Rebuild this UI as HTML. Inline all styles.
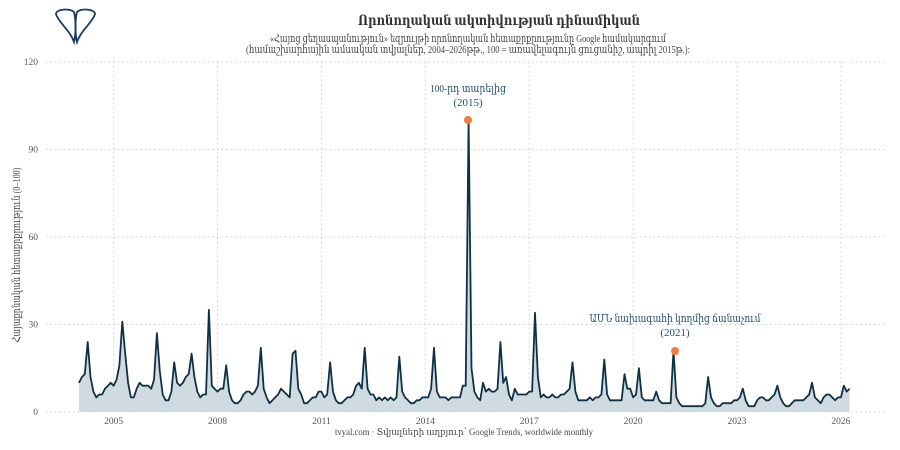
<!DOCTYPE html>
<html><head><meta charset="utf-8"><style>
body{margin:0;background:#fff;}
svg{display:block;font-family:"Liberation Serif","DejaVu Serif",serif;}
</style></head><body>
<svg id="s" width="900" height="450" viewBox="0 0 900 450" xmlns="http://www.w3.org/2000/svg">
<g fill="none" stroke="#1d3a63" stroke-width="1.8">
<path d="M74,42 C70,30 58,22 56,14 C56,9 70,8 74,12 C76,20 76,34 74,42 Z"/>
<path d="M77,42 C81,30 93,22 95,14 C95,9 81,8 77,12 C75,20 75,34 77,42 Z"/>
</g>
<text x="499" y="25" text-anchor="middle" font-size="14" font-weight="bold" fill="#333" textLength="282" lengthAdjust="spacingAndGlyphs">Որոնողական ակտիվության դինամիկան</text>
<text x="468" y="42" text-anchor="middle" font-size="11" fill="#444" textLength="396" lengthAdjust="spacingAndGlyphs">«Հայոց ցեղասպանություն» եզրույթի որոնողական հետաքրքրությունը Google համակարգում</text>
<text x="468" y="53" text-anchor="middle" font-size="11" fill="#444" textLength="444" lengthAdjust="spacingAndGlyphs">(համաշխարհային ամսական տվյալներ, 2004–2026թթ., 100 = առավելագույն ցուցանիշ, ապրիլ 2015թ.):</text>
<g id="grid" stroke="#d0d0d0" stroke-dasharray="1.5,3" stroke-width="1"></g>
<g id="lab" font-size="9.5" fill="#555"></g>
<text transform="translate(20,255) rotate(-90)" text-anchor="middle" font-size="11" fill="#444" textLength="175" lengthAdjust="spacingAndGlyphs">Հայաքրնական հետաքրքրություն (0–100)</text>
<path id="area" fill="#cfdbe0" stroke="none"/>
<path id="line" fill="none" stroke="#0e3145" stroke-width="1.8" stroke-linejoin="round"/>
<circle cx="468" cy="120" r="4" fill="#f07c3f"/>
<circle cx="675" cy="351" r="4" fill="#f07c3f"/>
<text x="468" y="92" text-anchor="middle" font-size="11" fill="#1f4e6b" textLength="76" lengthAdjust="spacingAndGlyphs">100-րդ տարելից</text>
<text x="468" y="106" text-anchor="middle" font-size="11" fill="#1f4e6b">(2015)</text>
<text x="675" y="322" text-anchor="middle" font-size="11" fill="#1f4e6b" textLength="171" lengthAdjust="spacingAndGlyphs">ԱՄՆ նախագահի կողմից ճանաչում</text>
<text x="675" y="336" text-anchor="middle" font-size="11" fill="#1f4e6b">(2021)</text>
<text x="464" y="435" text-anchor="middle" font-size="9.5" fill="#444" textLength="258" lengthAdjust="spacingAndGlyphs">tvyal.com  ·  Տվյալների աղբյուր՝ Google Trends, worldwide monthly</text>
</svg>
<script>
var d=[10,12,13,24,12,7,5,6,6,8,9,10,
9,11,16,31,20,10,5,5,8,10,9,9,
9,8,11,27,14,6,4,4,7,17,10,9,
10,12,13,20,12,7,5,6,6,35,9,8,
7,8,8,16,7,4,3,3,4,6,7,7,
6,7,9,22,8,5,3,4,5,6,8,7,
6,5,20,21,8,6,3,3,4,5,5,7,
7,5,6,17,7,4,3,3,4,5,5,6,
9,10,8,22,8,6,6,4,5,4,5,4,
5,4,5,19,7,5,4,3,3,4,4,5,
5,5,8,22,7,5,5,5,4,5,5,5,
5,9,9,100,15,7,5,4,10,7,8,7,
7,8,24,10,12,6,4,8,6,6,6,6,
7,7,34,12,5,6,5,5,6,5,5,6,
6,7,8,17,7,4,4,4,4,5,4,5,
5,6,18,6,4,4,4,4,4,13,8,8,
5,6,15,5,4,4,4,4,7,4,3,3,
3,3,21,5,3,2,2,2,2,2,2,2,
2,3,12,5,3,2,2,3,3,3,3,4,
4,5,8,4,2,2,2,4,5,5,4,4,
5,6,9,5,3,2,2,3,4,4,4,4,
5,6,10,5,4,3,5,6,6,5,4,5,
5,9,7,8];
function X(i){return 79+i*2.886}function Y(v){return 412-v*2.9167}
var p="";for(var i=0;i<d.length;i++)p+=(i?"L":"M")+X(i).toFixed(1)+","+Y(d[i]).toFixed(1);
document.getElementById("line").setAttribute("d",p);
document.getElementById("area").setAttribute("d",p+"L"+X(d.length-1).toFixed(1)+",412L79,412Z");
var g=document.getElementById("grid"),l=document.getElementById("lab"),h="",t="";
[0,30,60,90,120].forEach(function(v){var y=Y(v);h+='<line x1="46" x2="885" y1="'+y+'" y2="'+y+'"/>';t+='<text x="38" y="'+(y+3)+'" text-anchor="end">'+v+'</text>';});
for(var k=0;k<8;k++){var yr=2005+3*k,x=X((yr-2004)*12);h+='<line x1="'+x+'" x2="'+x+'" y1="62" y2="412"/>';t+='<text x="'+x+'" y="424" text-anchor="middle">'+yr+'</text>';}
g.innerHTML=h;l.innerHTML=t;
</script>
</body></html>
